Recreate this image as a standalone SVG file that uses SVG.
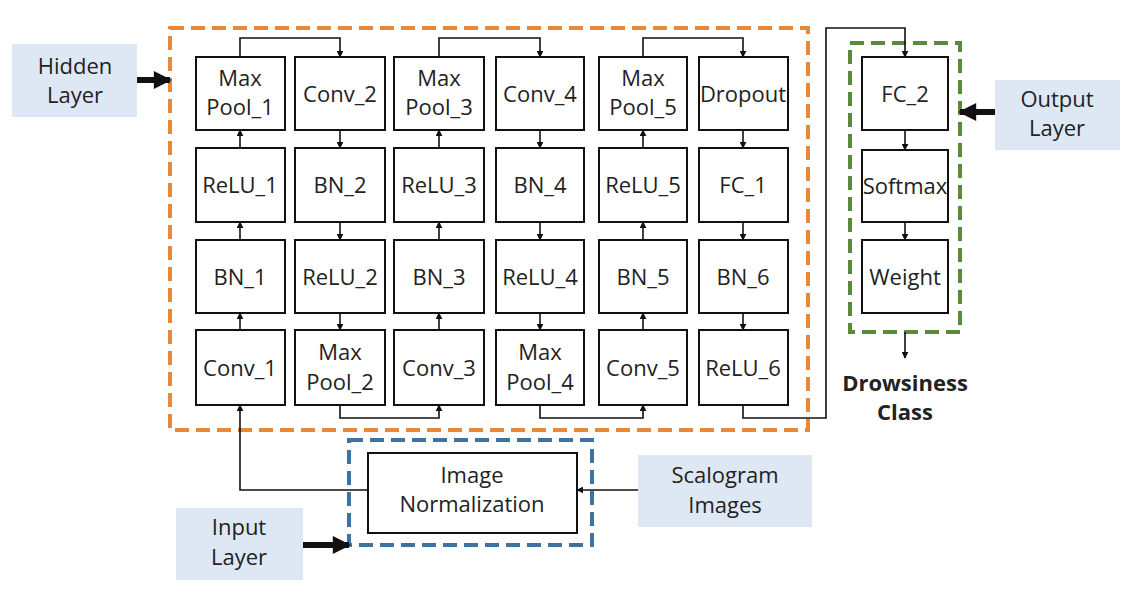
<svg xmlns="http://www.w3.org/2000/svg" width="1135" height="593" viewBox="0 0 1135 593">
<defs>
<style>
text{font-family:"Open Sans","Liberation Sans",sans-serif;font-size:22px;fill:#222;text-anchor:middle}
.b rect{fill:#fff;stroke:#111;stroke-width:2}
.lb rect{fill:#dde8f4}
.c{fill:none;stroke:#111;stroke-width:1.6}
.t{fill:none;stroke:#111;stroke-width:6}
</style>
<marker id="a" viewBox="0 0 10 10" refX="9" refY="5" markerWidth="7" markerHeight="7" orient="auto" markerUnits="userSpaceOnUse"><path d="M0,0L10,5L0,10z" fill="#111"/></marker>
<marker id="ta" viewBox="0 0 10 10" refX="9" refY="5" markerWidth="4" markerHeight="3" orient="auto"><path d="M0,0L10,5L0,10z" fill="#111"/></marker>
</defs>
<rect x="0" y="0" width="1135" height="593" fill="#fff"/>
<rect x="170" y="28" width="638" height="402" fill="none" stroke="#e8893a" stroke-width="4" stroke-dasharray="14,7"/>
<rect x="850" y="43" width="110" height="289" fill="none" stroke="#5a8a3a" stroke-width="4" stroke-dasharray="14,7"/>
<rect x="349" y="440" width="243" height="105" fill="none" stroke="#3e72a0" stroke-width="4" stroke-dasharray="14,7"/>
<g class="lb">
<g id="hidden"><rect x="12" y="44" width="125" height="73"/><text x="75" y="74">Hidden</text><text x="75" y="103">Layer</text></g>
<g id="output"><rect x="995" y="80" width="125" height="70"/><text x="1057" y="107">Output</text><text x="1057" y="136">Layer</text></g>
<g id="input"><rect x="176" y="508" width="127" height="72"/><text x="239" y="535">Input</text><text x="239" y="565">Layer</text></g>
<g id="scalogram"><rect x="638" y="455" width="174" height="72"/><text x="725" y="483">Scalogram</text><text x="725" y="513">Images</text></g>
</g>
<g class="b">
<g id="mp1"><rect x="196" y="57" width="89" height="73"/><text x="240" y="86">Max</text><text x="240" y="115">Pool_1</text></g>
<g id="relu1"><rect x="196" y="148" width="89" height="74"/><text x="240" y="193">ReLU_1</text></g>
<g id="bn1"><rect x="196" y="240" width="89" height="73"/><text x="240" y="285">BN_1</text></g>
<g id="conv1"><rect x="196" y="330" width="89" height="75"/><text x="240" y="376">Conv_1</text></g>
<g id="conv2"><rect x="295" y="57" width="90" height="73"/><text x="340" y="102">Conv_2</text></g>
<g id="bn2"><rect x="295" y="148" width="90" height="74"/><text x="340" y="193">BN_2</text></g>
<g id="relu2"><rect x="295" y="240" width="90" height="73"/><text x="340" y="285">ReLU_2</text></g>
<g id="mp2"><rect x="295" y="330" width="90" height="75"/><text x="340" y="360">Max</text><text x="340" y="390">Pool_2</text></g>
<g id="mp3"><rect x="394" y="57" width="90" height="73"/><text x="439" y="86">Max</text><text x="439" y="115">Pool_3</text></g>
<g id="relu3"><rect x="394" y="148" width="90" height="74"/><text x="439" y="193">ReLU_3</text></g>
<g id="bn3"><rect x="394" y="240" width="90" height="73"/><text x="439" y="285">BN_3</text></g>
<g id="conv3"><rect x="394" y="330" width="90" height="75"/><text x="439" y="376">Conv_3</text></g>
<g id="conv4"><rect x="496" y="57" width="88" height="73"/><text x="540" y="102">Conv_4</text></g>
<g id="bn4"><rect x="496" y="148" width="88" height="74"/><text x="540" y="193">BN_4</text></g>
<g id="relu4"><rect x="496" y="240" width="88" height="73"/><text x="540" y="285">ReLU_4</text></g>
<g id="mp4"><rect x="496" y="330" width="88" height="75"/><text x="540" y="360">Max</text><text x="540" y="390">Pool_4</text></g>
<g id="mp5"><rect x="599" y="57" width="88" height="73"/><text x="643" y="86">Max</text><text x="643" y="115">Pool_5</text></g>
<g id="relu5"><rect x="599" y="148" width="88" height="74"/><text x="643" y="193">ReLU_5</text></g>
<g id="bn5"><rect x="599" y="240" width="88" height="73"/><text x="643" y="285">BN_5</text></g>
<g id="conv5"><rect x="599" y="330" width="88" height="75"/><text x="643" y="376">Conv_5</text></g>
<g id="dropout"><rect x="699" y="57" width="89" height="73"/><text x="743" y="102">Dropout</text></g>
<g id="fc1"><rect x="699" y="148" width="89" height="74"/><text x="743" y="193">FC_1</text></g>
<g id="bn6"><rect x="699" y="240" width="89" height="73"/><text x="743" y="285">BN_6</text></g>
<g id="relu6"><rect x="699" y="330" width="89" height="75"/><text x="743" y="376">ReLU_6</text></g>
<g id="fc2"><rect x="862" y="57" width="86" height="73"/><text x="905" y="102">FC_2</text></g>
<g id="softmax"><rect x="862" y="150" width="86" height="72"/><text x="905" y="194">Softmax</text></g>
<g id="weight"><rect x="862" y="240" width="86" height="73"/><text x="905" y="285">Weight</text></g>
<g id="norm"><rect x="368" y="453" width="209" height="80"/><text x="472" y="483">Image</text><text x="472" y="512">Normalization</text></g>
</g>
<g id="drowsy"><text x="905" y="391" style="font-weight:bold">Drowsiness</text><text x="905" y="420" style="font-weight:bold">Class</text></g>
<g id="connectors">
<g class="c" marker-end="url(#a)">
<path d="M240,330V313"/><path d="M240,240V222"/><path d="M240,148V130"/>
<path d="M240,57V38H340V57"/>
<path d="M340,130V148"/><path d="M340,222V240"/><path d="M340,313V330"/>
<path d="M340,405V418H439V405"/>
<path d="M439,330V313"/><path d="M439,240V222"/><path d="M439,148V130"/>
<path d="M439,57V38H540V57"/>
<path d="M540,130V148"/><path d="M540,222V240"/><path d="M540,313V330"/>
<path d="M540,405V418H643V405"/>
<path d="M643,330V313"/><path d="M643,240V222"/><path d="M643,148V130"/>
<path d="M643,57V38H743V57"/>
<path d="M743,130V148"/><path d="M743,222V240"/><path d="M743,313V330"/>
<path d="M743,405V418H826V28H905V57"/>
<path d="M905,130V150"/><path d="M905,222V240"/><path d="M905,332V358"/>
<path d="M638,490H577"/>
<path d="M368,490H240V405"/>
</g>
<g class="t" marker-end="url(#ta)">
<path d="M137,80H170"/><path d="M995,112H960"/><path d="M303,545H349"/>
</g>
</g>
</svg>
